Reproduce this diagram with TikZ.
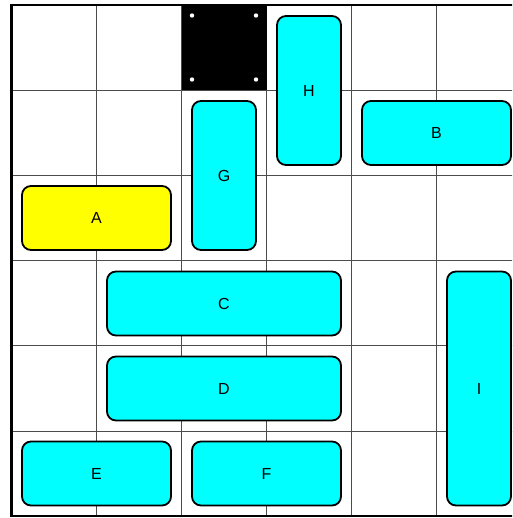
\documentclass[tikz,border=0pt]{standalone}
\usepackage{fontspec}
\setmainfont{Liberation Sans}
\definecolor{carcyan}{HTML}{00FFFF}
\definecolor{caryellow}{HTML}{FFFF00}
\begin{document}
\begin{tikzpicture}[x=1pt,y=-1pt,
  veh/.style={draw=black,line width=1.8pt,rounded corners=9pt,inner sep=0pt,
    font=\fontsize{16}{18}\selectfont},
  car/.style={veh,fill=carcyan},
  redcar/.style={veh,fill=caryellow},
  gridline/.style={draw=black!70,line width=0.9pt}]
\useasboundingbox (0,0) rectangle (512,518);
\clip (0,0) rectangle (512,518);
\fill[white] (0,0) rectangle (512,518);
% grid
\foreach \i in {1,...,5}{
  \draw[gridline] (11.5+85*\i,5) -- (11.5+85*\i,515.5);
  \draw[gridline] (11.5,5+85.2*\i) -- (521.5,5+85.2*\i);
}
% exit / wall cell
\fill[black] (181.5,5) rectangle (266.5,90);
\foreach \dx/\dy in {192/15.5,256/15.5,192/79.5,256/79.5}
  \fill[white] (\dx,\dy) circle (2.2);
\draw[black,line width=2.4pt] (11.5,5) rectangle (521.5,516);
% vehicles
\node[redcar,minimum width=149,minimum height=64] (A) at (96.5,218) {A};
\node[car,minimum width=149,minimum height=64] (B) at (436.5,133) {B};
\node[car,minimum width=234,minimum height=64] (C) at (224,303.5) {C};
\node[car,minimum width=234,minimum height=64] (D) at (224,388.5) {D};
\node[car,minimum width=149,minimum height=64] (E) at (96.5,473.5) {E};
\node[car,minimum width=149,minimum height=64] (F) at (266.5,473.5) {F};
\node[car,minimum width=64,minimum height=149] (G) at (224,175.5) {G};
\node[car,minimum width=64,minimum height=149] (H) at (309,90.5) {H};
\node[car,minimum width=64,minimum height=234] (I) at (479,388.5) {I};
\end{tikzpicture}
\end{document}
